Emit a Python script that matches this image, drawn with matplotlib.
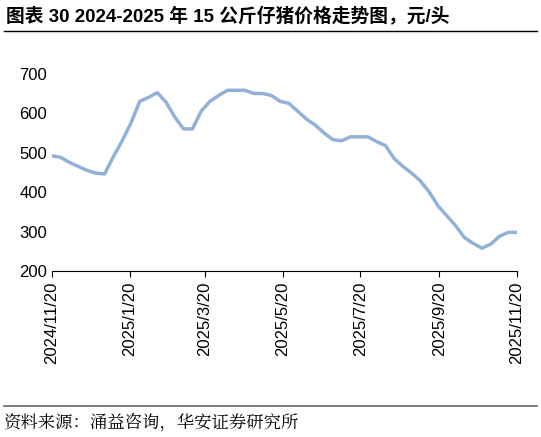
import matplotlib
matplotlib.use('Agg')
import matplotlib.pyplot as plt
import pandas as pd

plt.rcParams['font.family'] = ['Liberation Sans', 'Noto Sans CJK SC', 'DejaVu Sans']

title = '图表 30 2024-2025 年 15 公斤仔猪价格走势图，元/头'
source = '资料来源：涌益咨询，华安证券研究所'

prices = [492, 488, 475, 465, 455, 448, 446, 490, 530, 575, 630, 640, 652, 628,
          590, 560, 560, 605, 630, 645, 658, 658, 658, 650, 650, 645, 630, 625,
          605, 585, 570, 550, 533, 530, 540, 540, 540, 528, 518, 485, 465, 448,
          428, 400, 365, 340, 315, 285, 270, 258, 268, 288, 298, 298]
dates = pd.date_range('2024-11-20', '2025-11-20', periods=len(prices))
tick_dates = pd.to_datetime(['2024-11-20', '2025-01-20', '2025-03-20', '2025-05-20',
                             '2025-07-20', '2025-09-20', '2025-11-20'])

fig = plt.figure(figsize=(5.41, 4.37), dpi=100)
ax = fig.add_axes([52 / 541, 1 - 271 / 437, 465 / 541, 217 / 437])
ax.plot(dates, prices, color='#92b1d9', lw=2.5)
ax.set_xlim(dates[0], dates[-1])
ax.set_ylim(200, 750)
ax.set_yticks([200, 300, 400, 500, 600, 700])
ax.set_xticks(tick_dates)
ax.set_xticklabels([f'{d.year}/{d.month}/{d.day}' for d in tick_dates], rotation=90)
ax.tick_params(labelsize=12, length=4, direction='out')
for s in ['top', 'right', 'left']:
    ax.spines[s].set_visible(False)
ax.tick_params(axis='y', length=0)

fig.text(0.012, 1 - 17 / 437, title, fontsize=13.5, fontweight='bold', va='center',
         family=['Liberation Sans', 'Noto Sans CJK SC'])
fig.add_artist(plt.Line2D([0.008, 0.992], [1 - 31 / 437] * 2, color='black', lw=1))
fig.add_artist(plt.Line2D([0.008, 0.992], [1 - 406 / 437] * 2, color='#666666', lw=1.2))
fig.text(0.008, 1 - 422 / 437, source, fontsize=12.5, va='center',
         family=['Noto Serif CJK SC', 'Noto Sans CJK SC'])

fig.savefig('out.png')
